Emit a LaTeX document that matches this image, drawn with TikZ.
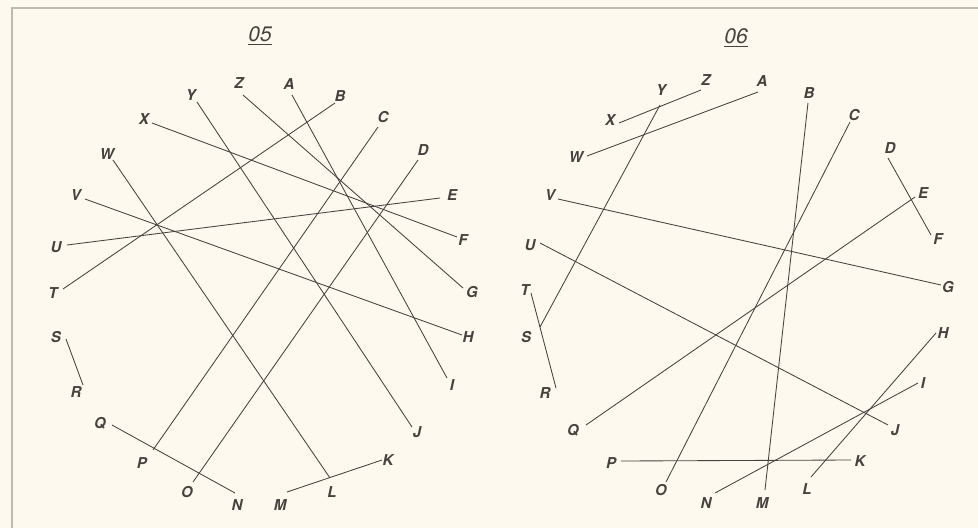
\documentclass[tikz,border=0pt]{standalone}
\usepackage{fontspec}
\setmainfont{TeX Gyre Heros}
\usepackage{xcolor}
\usepackage{tikz}
\usetikzlibrary{positioning}

\definecolor{paper}{RGB}{253,249,238}
\definecolor{ink}{RGB}{70,66,62}
\definecolor{frame}{RGB}{190,186,176}

\begin{document}
\begin{tikzpicture}[x=1pt, y=-1pt,
    every node/.style={font=\fontsize{15}{17}\selectfont\bfseries\itshape, text=ink, inner sep=0pt},
    chord/.style={draw=ink, line width=0.85pt}]
    \useasboundingbox[fill=paper] (0,0) rectangle (978,528);
    \draw[frame, line width=1.2pt] (12,528) -- (12,8) -- (978,8);

    % titles
    \node[font=\fontsize{21}{23}\selectfont\itshape] (t05) at (260,34) {05};
    \node[font=\fontsize{21}{23}\selectfont\itshape] (t06) at (736,36) {06};
    \draw[ink, line width=1.1pt] ([yshift=-3pt]t05.south west) -- ([yshift=-3pt]t05.south east);
    \draw[ink, line width=1.1pt] ([yshift=-3pt]t06.south west) -- ([yshift=-3pt]t06.south east);

    % left circle: letters and chord ends
    \foreach \n/\lx/\ly/\ex/\ey in {Z/239/83/243/95, A/289/84/292/95, B/340/96/335/103,
        C/383/117/378/127, D/423/150/418/160, E/452/195/440/198, F/463/240/457/237,
        G/472/292/463/288, H/468/337/462/335, I/452/385/447/378, J/417/432/412/427,
        K/388/460/382/460, L/332/492/330/478, M/280/505/287/492, N/237/505/235/493,
        O/187/492/193/482, P/142/463/153/450, Q/100/423/112/425, R/76/392/83/385,
        S/56/337/66/339, T/53/293/63/289, U/56/247/67/245, V/76/195/85/199,
        W/107/154/113/160, X/144/119/152/123, Y/191/95/197/102} {
      \node (l\n) at (\lx,\ly) {\n};
      \coordinate (le\n) at (\ex,\ey);
    }
    \foreach \a/\b in {Z/G, A/I, B/T, C/P, D/O, E/U, X/F, Y/J, W/L, V/H, S/R, Q/N, M/K}
      \draw[chord] (le\a) -- (le\b);

    % right circle: letters and chord ends
    \foreach \n/\lx/\ly/\ex/\ey in {Y/661/90/660/105, Z/706/80/701/90, A/762/81/758/92,
        B/809/93/808/103, C/854/115/850/122, D/890/148/888/158, E/923/193/915/197,
        F/938/239/931/235, G/948/287/941/285, H/943/333/936/333, I/923/383/918/383,
        J/895/430/888/425, K/860/461/851/460, L/807/489/811/477, M/762/503/765/490,
        N/706/503/715/493, O/661/490/666/482, P/611/463/621/461, Q/573/430/586/425,
        R/545/393/556/388, S/526/337/540/327, T/525/290/531/293, U/530/245/540/243,
        V/550/195/558/199, W/576/157/587/156, X/610/120/619/123} {
      \node (r\n) at (\lx,\ly) {\n};
      \coordinate (re\n) at (\ex,\ey);
    }
    \foreach \a/\b in {X/Z, W/A, Y/S, B/M, C/O, D/F, E/Q, V/G, U/J, T/R, H/L, I/N, P/K}
      \draw[chord] (re\a) -- (re\b);
  \end{tikzpicture}
\end{document}
